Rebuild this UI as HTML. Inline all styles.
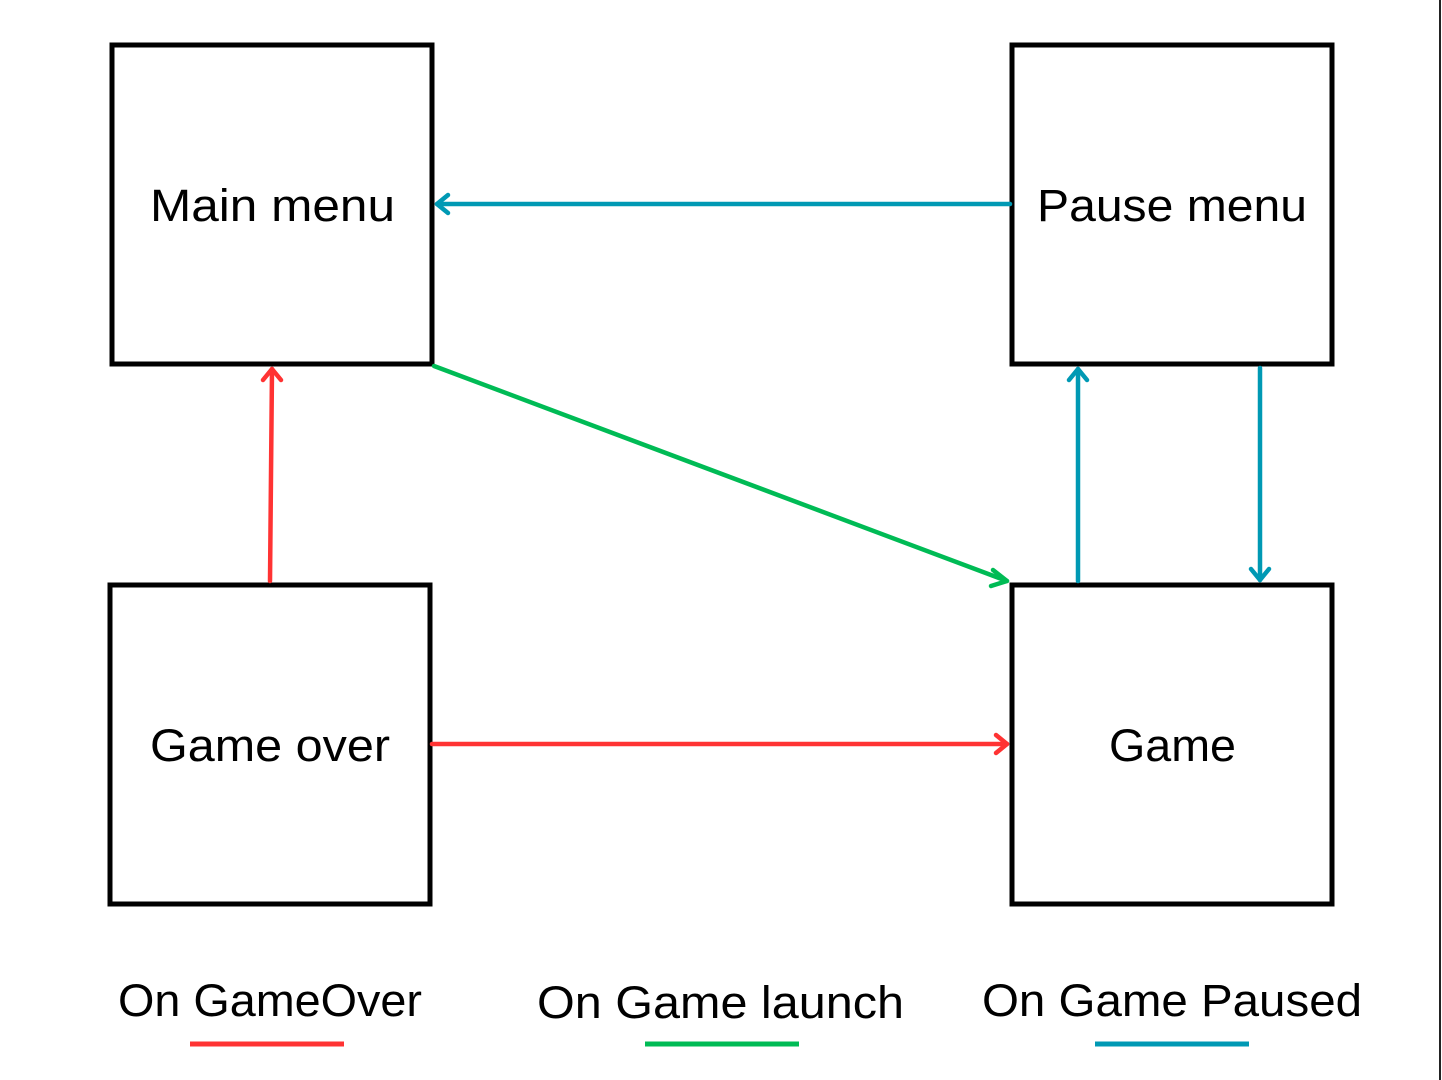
<!DOCTYPE html>
<html><head><style>html,body{margin:0;padding:0;background:#fff;width:1442px;height:1080px;overflow:hidden}</style></head>
<body>
<svg width="1442" height="1080" xmlns="http://www.w3.org/2000/svg" font-family="Liberation Sans, DejaVu Sans, sans-serif">
<rect x="0" y="0" width="1442" height="1080" fill="#fff"/>
<line x1="1440" y1="0" x2="1440" y2="1080" stroke="#222" stroke-width="2"/>
<g fill="none" stroke="#000" stroke-width="5">
<rect x="112" y="45" width="320" height="319"/>
<rect x="1012" y="45" width="320" height="319"/>
<rect x="110" y="585" width="320" height="319"/>
<rect x="1012" y="585" width="320" height="319"/>
</g>
<g font-size="45" fill="#000" lengthAdjust="spacingAndGlyphs">
<text x="150" y="221" textLength="245" lengthAdjust="spacingAndGlyphs">Main menu</text>
<text x="1037" y="221" textLength="270" lengthAdjust="spacingAndGlyphs">Pause menu</text>
<text x="150" y="761" textLength="240" lengthAdjust="spacingAndGlyphs">Game over</text>
<text x="1109" y="761" textLength="127" lengthAdjust="spacingAndGlyphs">Game</text>
<text x="118" y="1016" textLength="304" lengthAdjust="spacingAndGlyphs">On GameOver</text>
<text x="537" y="1018" textLength="367" lengthAdjust="spacingAndGlyphs">On Game launch</text>
<text x="982" y="1016" textLength="380" lengthAdjust="spacingAndGlyphs">On Game Paused</text>
</g>
<g fill="none" stroke-width="4.5" stroke-linecap="round" stroke-linejoin="round">
<g stroke="#0099b4">
<line x1="1010" y1="204" x2="437" y2="204"/><polyline points="448,195 437,204 448,213"/>
<line x1="1078" y1="581" x2="1078" y2="369"/><polyline points="1069,380 1078,369 1087,380"/>
<line x1="1260" y1="368" x2="1260" y2="580"/><polyline points="1251,569 1260,580 1269,569"/>
</g>
<g stroke="#ff3333">
<line x1="270" y1="581" x2="272" y2="369"/><polyline points="263,380 272,369 281,380"/>
<line x1="432" y1="744" x2="1007" y2="744"/><polyline points="996,735 1007,744 996,753"/>
</g>
<g stroke="#00bb55">
<line x1="434" y1="366" x2="1007" y2="581"/><polyline points="993,570 1007,581 991,586"/>
</g>
</g>
<g stroke-width="5">
<line x1="190" y1="1044" x2="344" y2="1044" stroke="#ff3333"/>
<line x1="645" y1="1044" x2="799" y2="1044" stroke="#00bb55"/>
<line x1="1095" y1="1044" x2="1249" y2="1044" stroke="#0099b4"/>
</g>
</svg>
</body></html>
